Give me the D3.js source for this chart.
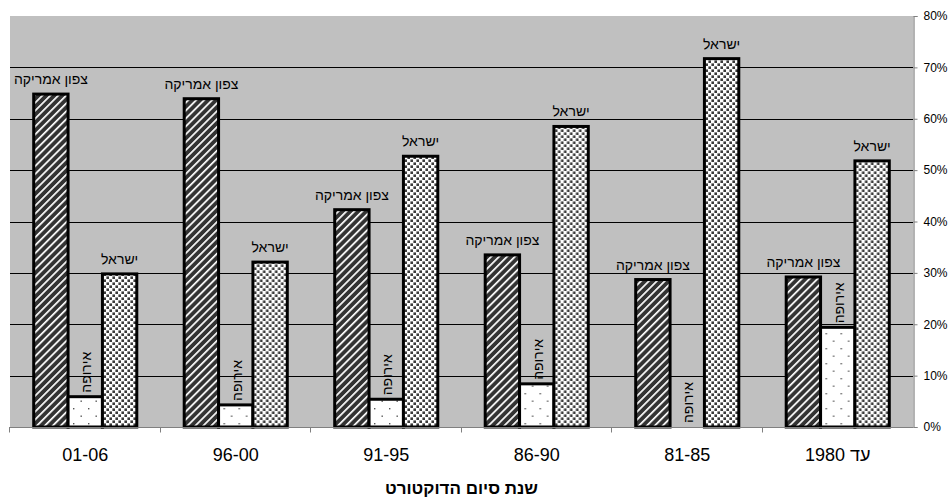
<!DOCTYPE html>
<html>
<head>
<meta charset="utf-8">
<script src="https://cdn.jsdelivr.net/npm/d3@7"></script>
<style>
  body { margin: 0; background: #fff; }
  text { font-family: "Liberation Sans", Arial, sans-serif; fill: #000; }
</style>
</head>
<body>
<svg id="chart" width="951" height="497"></svg>
<script>
// categories in display order (left to right)
var categories = ["01-06", "96-00", "91-95", "86-90", "81-85", "עד 1980"];
var seriesNames = ["צפון אמריקה", "אירופה", "ישראל"];
var northAmerica = [64.8, 63.9, 42.3, 33.5, 28.7, 29.2];
var europe = [5.9, 4.3, 5.4, 8.4, 0, 19.4];
var israel = [29.8, 32.1, 52.7, 58.5, 71.7, 51.8];
var yTicks = [0, 10, 20, 30, 40, 50, 60, 70, 80];
var xTitle = "שנת סיום הדוקטורט";

var svg = d3.select("#chart");

// plot box (note: "top" is reserved on window, so use other names)
var plotL = 10, plotR = 913, plotT = 16, plotB = 427;

var x0 = d3.scaleBand().domain(categories).range([plotL, plotR]).padding(0);
var x1 = d3.scaleBand().domain([0, 1, 2]).range([0, x0.bandwidth()]).paddingInner(0).paddingOuter(0.69);
var y = d3.scaleLinear().domain([0, 80]).range([plotB, plotT]);

// fill patterns
var defs = svg.append("defs");

var stripes = defs.append("pattern")
	.attr("id", "pStripes")
	.attr("patternUnits", "userSpaceOnUse")
	.attr("width", 5.6).attr("height", 5.6)
	.attr("patternTransform", "rotate(45)");
stripes.append("rect").attr("width", 5.6).attr("height", 5.6).attr("fill", "#333");
stripes.append("rect").attr("x", 0).attr("width", 1.7).attr("height", 5.6).attr("fill", "#fff");

var sparse = defs.append("pattern")
	.attr("id", "pSparse")
	.attr("patternUnits", "userSpaceOnUse")
	.attr("width", 15).attr("height", 15);
sparse.append("rect").attr("width", 15).attr("height", 15).attr("fill", "#fff");
sparse.append("rect").attr("x", 3).attr("y", 3).attr("width", 1.4).attr("height", 1.4).attr("fill", "#555");
sparse.append("rect").attr("x", 10.5).attr("y", 10.5).attr("width", 1.4).attr("height", 1.4).attr("fill", "#555");

var dense = defs.append("pattern")
	.attr("id", "pDense")
	.attr("patternUnits", "userSpaceOnUse")
	.attr("width", 6).attr("height", 6);
dense.append("rect").attr("width", 6).attr("height", 6).attr("fill", "#fff");
dense.append("rect").attr("x", 0.4).attr("y", 0.4).attr("width", 2.6).attr("height", 2.6).attr("fill", "#3a3a3a");
dense.append("rect").attr("x", 3.4).attr("y", 3.4).attr("width", 2.6).attr("height", 2.6).attr("fill", "#3a3a3a");

var fills = ["url(#pStripes)", "url(#pSparse)", "url(#pDense)"];

// plot background
svg.append("rect")
	.attr("x", plotL).attr("y", plotT)
	.attr("width", plotR - plotL).attr("height", plotB - plotT)
	.attr("fill", "#c0c0c0");

// gridlines
svg.append("g").selectAll("line")
	.data(yTicks.filter(function(d) { return d > 0 && d < 80; }))
	.enter().append("line")
	.attr("x1", plotL).attr("x2", plotR)
	.attr("y1", function(d) { return Math.round(y(d)) + 0.5; })
	.attr("y2", function(d) { return Math.round(y(d)) + 0.5; })
	.attr("stroke", "#000").attr("stroke-width", 1);

var rows = categories.map(function(c, i) {
	return { cat: c, values: [northAmerica[i], europe[i], israel[i]] };
});

var groups = svg.append("g").selectAll("g")
	.data(rows)
	.enter().append("g")
	.attr("transform", function(d) { return "translate(" + x0(d.cat) + ",0)"; });

groups.selectAll("rect")
	.data(function(d) { return d.values.map(function(v, k) { return { k: k, v: v }; }).filter(function(d) { return d.v > 0; }); })
	.enter().append("rect")
	.attr("x", function(d) { return x1(d.k); })
	.attr("y", function(d) { return y(d.v); })
	.attr("width", x1.bandwidth())
	.attr("height", function(d) { return y(0) - y(d.v); })
	.attr("fill", function(d) { return fills[d.k]; })
	.attr("stroke", "#000")
	.attr("stroke-width", 3);

// labels above bars
groups.selectAll("text.lab")
	.data(function(d) { return d.values.map(function(v, k) { return { k: k, v: v }; }); })
	.enter().append("text")
	.attr("class", "lab")
	.style("font-size", "14px")
	.attr("text-anchor", function(d) { return d.k === 1 ? "start" : "middle"; })
	.attr("dominant-baseline", function(d) { return d.k === 1 ? "central" : "auto"; })
	.attr("transform", function(d) {
		var cx = x1(d.k) + x1.bandwidth() / 2;
		if (d.k === 1) return "translate(" + (cx + 1) + "," + (y(d.v) - 4) + ") rotate(-90)";
		return "translate(" + cx + "," + (y(d.v) - 10) + ")";
	})
	.text(function(d) { return seriesNames[d.k]; });

// right axis
var yAxis = d3.axisRight(y)
	.tickValues(yTicks)
	.tickSize(4)
	.tickPadding(6)
	.tickFormat(function(d) { return d + "%"; });

var gy = svg.append("g")
	.attr("transform", "translate(" + (plotR + 0.5) + ",0)")
	.call(yAxis);
gy.select(".domain").attr("stroke", "#808080").attr("stroke-width", 1.2);
gy.selectAll(".tick line").attr("stroke", "#808080");
gy.selectAll(".tick text").style("font-size", "12px").style("font-family", "'Liberation Sans', Arial, sans-serif").attr("fill", "#000");

// bottom axis
var gx = svg.append("g").attr("transform", "translate(0," + (plotB + 0.5) + ")");
gx.append("line")
	.attr("x1", plotL - 1).attr("x2", plotR)
	.attr("stroke", "#808080").attr("stroke-width", 1.2);
gx.selectAll("line.tk")
	.data(categories)
	.enter().append("line")
	.attr("class", "tk")
	.attr("x1", function(d) { return Math.round(x0(d)) - 0.5; })
	.attr("x2", function(d) { return Math.round(x0(d)) - 0.5; })
	.attr("y1", 0).attr("y2", 5)
	.attr("stroke", "#808080");
gx.selectAll("text")
	.data(categories)
	.enter().append("text")
	.attr("x", function(d) { return x0(d) + x0.bandwidth() / 2; })
	.attr("y", 33)
	.attr("text-anchor", "middle")
	.style("font-size", "18px")
	.text(function(d) { return d; });

// axis title
svg.append("text")
	.attr("x", (plotL + plotR) / 2)
	.attr("y", 494)
	.attr("text-anchor", "middle")
	.style("font-size", "17px")
	.style("font-weight", "bold")
	.text(xTitle);
</script>
</body>
</html>
